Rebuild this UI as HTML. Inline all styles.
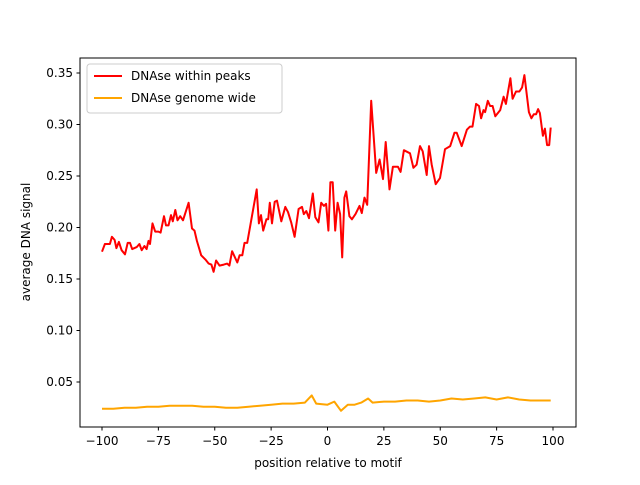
<!DOCTYPE html>
<html><head><meta charset="utf-8"><style>
body{margin:0;background:#fff;}
svg text{font-family:"DejaVu Sans","Liberation Sans",sans-serif;font-size:12px;fill:#000;}
</style></head><body>
<svg id="chart" width="640" height="480" xmlns="http://www.w3.org/2000/svg">
<rect x="0" y="0" width="640" height="480" fill="#fff"/>
<g id="marks"></g>
<rect x="80" y="58" width="496" height="369" fill="none" stroke="#000" stroke-width="1"/>
<g id="axes"></g>
<text x="328" y="467" text-anchor="middle">position relative to motif</text>
<text x="30" y="242" text-anchor="middle" transform="rotate(-90 30 242)">average DNA signal</text>
<g>
<rect x="87" y="64" width="195" height="49" rx="3" fill="#fff" fill-opacity="0.8" stroke="#ccc"/>
<line x1="94" y1="76" x2="122" y2="76" stroke="#ff0000" stroke-width="2"/>
<text x="131" y="80">DNAse within peaks</text>
<line x1="94" y1="98" x2="122" y2="98" stroke="#ffa500" stroke-width="2"/>
<text x="131" y="102">DNAse genome wide</text>
</g>
</svg>
<script>
const peaksX=[-100,-98.7,-96.5,-95.6,-94.4,-93.6,-92.5,-91.3,-89.8,-88.6,-87.6,-86.6,-84.6,-83.4,-82.4,-81.2,-80.2,-79.4,-78.7,-77.6,-76.4,-75,-74,-72.5,-71.6,-70.5,-69.4,-68.6,-67.5,-66.5,-65.3,-64.1,-61.6,-60.1,-59,-57.9,-56,-54.2,-52.7,-51.5,-50.5,-49.4,-47.9,-46,-44.5,-43.5,-42.3,-40,-39,-37.8,-36.8,-35.6,-31.4,-30.4,-29.5,-28.5,-27.1,-26.3,-25.6,-24.6,-23.4,-22.4,-20.5,-18.7,-17.5,-16.1,-14.6,-12.8,-11.3,-10.5,-9.4,-8.2,-6.5,-5.4,-4,-2.8,-1.6,-0.6,0.4,1.3,2.3,3.4,4.5,5.6,6.5,7.5,8.3,9.7,10.8,12.4,14.2,15.2,16.4,17.6,19.4,21.6,23.1,24.6,25.8,27.5,29,31.2,32.4,33.9,36.6,38.1,39.5,41,42.2,44,45,46.2,48,49.9,51.4,52.1,54.4,56.3,57.3,59.5,61.8,63.2,64.3,65.9,67.2,68.1,69.2,69.9,71.1,72.1,73.2,74.4,76.6,78.1,79.1,81.1,82.1,83.6,85.1,86.3,87.3,89.3,90.4,91.5,92.5,93.4,94.2,95.5,96.4,97.4,98.3,99];
const peaksY=[0.1765,0.184,0.184,0.191,0.188,0.180,0.186,0.178,0.174,0.185,0.185,0.179,0.181,0.184,0.178,0.182,0.179,0.187,0.184,0.204,0.196,0.196,0.195,0.211,0.202,0.202,0.212,0.206,0.217,0.207,0.211,0.207,0.224,0.199,0.197,0.187,0.173,0.169,0.165,0.164,0.157,0.168,0.163,0.164,0.165,0.163,0.177,0.166,0.173,0.173,0.185,0.185,0.237,0.204,0.212,0.197,0.208,0.208,0.224,0.204,0.225,0.226,0.206,0.220,0.215,0.205,0.191,0.218,0.220,0.213,0.216,0.209,0.233,0.210,0.205,0.224,0.221,0.223,0.197,0.244,0.244,0.197,0.224,0.213,0.171,0.229,0.235,0.211,0.208,0.213,0.221,0.214,0.229,0.222,0.323,0.253,0.266,0.247,0.283,0.237,0.259,0.259,0.254,0.275,0.272,0.258,0.261,0.279,0.274,0.251,0.279,0.261,0.242,0.248,0.267,0.276,0.279,0.292,0.292,0.279,0.295,0.298,0.298,0.320,0.318,0.306,0.314,0.312,0.323,0.318,0.318,0.308,0.314,0.327,0.320,0.345,0.325,0.332,0.332,0.336,0.348,0.312,0.306,0.310,0.310,0.315,0.311,0.289,0.296,0.280,0.280,0.297];
const genomeX=[-100,-95,-90,-85,-80,-75,-70,-65,-60,-55,-50,-45,-40,-35,-30,-25,-20,-15,-10,-7,-5,0,3,6,9,12,15,18,20,25,30,35,40,45,50,55,60,65,70,75,80,85,90,95,99];
const genomeY=[0.024,0.024,0.025,0.025,0.026,0.026,0.027,0.027,0.027,0.026,0.026,0.025,0.025,0.026,0.027,0.028,0.029,0.029,0.030,0.037,0.029,0.028,0.031,0.022,0.028,0.028,0.030,0.034,0.030,0.031,0.031,0.032,0.032,0.031,0.032,0.034,0.033,0.034,0.035,0.033,0.035,0.033,0.032,0.032,0.032];
const xTicks=[-100,-75,-50,-25,0,25,50,75,100];
const yTicks=[0.05,0.10,0.15,0.20,0.25,0.30,0.35];

const sx=v=>102+(v+100)*2.255;
const sy=v=>382-(v-0.05)*1030;
const NS="http://www.w3.org/2000/svg";
const marks=document.getElementById('marks');
const axes=document.getElementById('axes');
function line(xs,ys,color,name){
  const p=document.createElementNS(NS,'polyline');
  p.setAttribute('points',xs.map((x,i)=>sx(x).toFixed(1)+','+sy(ys[i]).toFixed(1)).join(' '));
  p.setAttribute('fill','none');p.setAttribute('stroke',color);p.setAttribute('stroke-width','2');
  p.setAttribute('stroke-linejoin','round');
  
  
  marks.appendChild(p);
}
line(genomeX,genomeY,'#ffa500','series-genome-wide');
line(peaksX,peaksY,'#ff0000','series-within-peaks');
xTicks.forEach(t=>{
  const x=sx(t);
  const l=document.createElementNS(NS,'line');
  l.setAttribute('x1',x);l.setAttribute('x2',x);l.setAttribute('y1',427);l.setAttribute('y2',430.5);l.setAttribute('stroke','#000');
  
  
  axes.appendChild(l);
  const tx=document.createElementNS(NS,'text');
  tx.setAttribute('x',x);tx.setAttribute('y',445);tx.setAttribute('text-anchor','middle');
  tx.textContent=t<0?'\u2212'+(-t):String(t);
  
  
  axes.appendChild(tx);
});
yTicks.forEach(t=>{
  const y=sy(t);
  const l=document.createElementNS(NS,'line');
  l.setAttribute('x1',76.5);l.setAttribute('x2',80);l.setAttribute('y1',y);l.setAttribute('y2',y);l.setAttribute('stroke','#000');
  
  
  axes.appendChild(l);
  const tx=document.createElementNS(NS,'text');
  tx.setAttribute('x',73);tx.setAttribute('y',y+4);tx.setAttribute('text-anchor','end');
  tx.textContent=t.toFixed(2);
  
  
  axes.appendChild(tx);
});
</script>
</body></html>
